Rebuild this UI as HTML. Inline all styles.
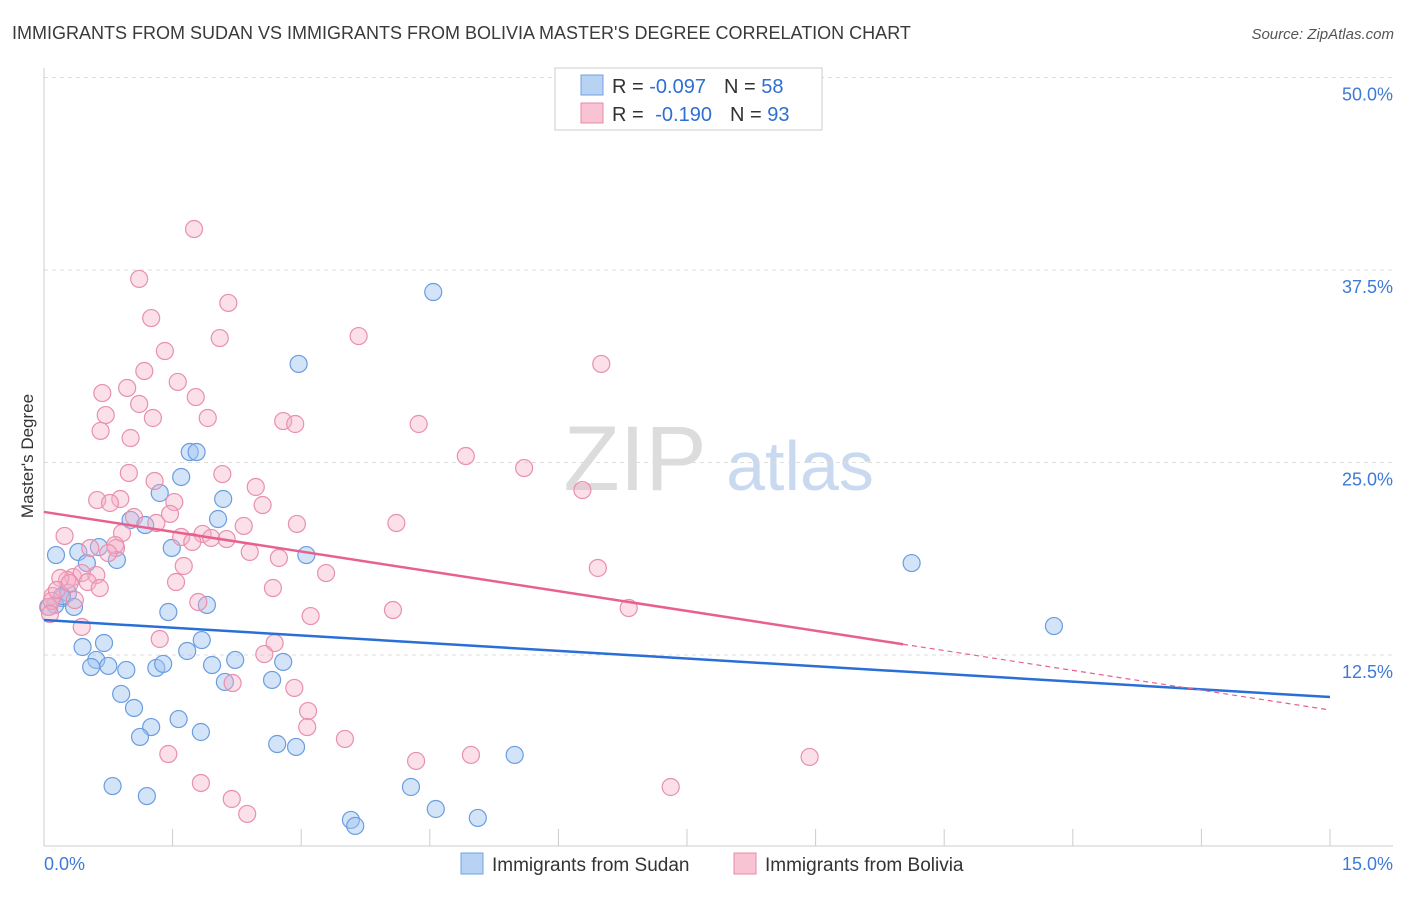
<!DOCTYPE html>
<html><head><meta charset="utf-8"><style>
body{margin:0;background:#fff;font-family:"Liberation Sans",sans-serif;}
svg text{font-family:"Liberation Sans",sans-serif;}
</style></head><body>
<svg id="chart" width="1406" height="892" viewBox="0 0 1406 892" xmlns="http://www.w3.org/2000/svg">
<text x="12" y="39" font-size="18" fill="#3a3a3a">IMMIGRANTS FROM SUDAN VS IMMIGRANTS FROM BOLIVIA MASTER'S DEGREE CORRELATION CHART</text>
<text x="1394" y="39" font-size="15" fill="#555" font-style="italic" text-anchor="end">Source: ZipAtlas.com</text>
<g><text x="635" y="490" font-size="92" fill="#dcdcdc" font-family="Liberation Serif" text-anchor="middle">ZIP</text><text x="800" y="490" font-size="70" fill="#c9daf0" text-anchor="middle">atlas</text></g>
<g id="grid"></g>
<g id="axes"></g>
<g id="points"></g>
<g id="lines"></g>
<text transform="translate(33,456) rotate(-90)" font-size="17" fill="#333" text-anchor="middle">Master's Degree</text>
<g>
<rect x="555" y="68" width="267" height="62" fill="#fff" stroke="#ccc"/>
<rect x="581" y="75" width="22" height="20" fill="#b8d2f4" stroke="#6fa0e0"/>
<rect x="581" y="103" width="22" height="20" fill="#f8c4d4" stroke="#e88aa8"/>
<text x="612" y="93" font-size="20" fill="#333">R = <tspan fill="#2f6fd0">-0.097</tspan><tspan dx="18">N = </tspan><tspan fill="#2f6fd0">58</tspan></text>
<text x="612" y="121" font-size="20" fill="#333">R = <tspan fill="#2f6fd0" dx="6">-0.190</tspan><tspan dx="18">N = </tspan><tspan fill="#2f6fd0">93</tspan></text>
</g>
<g>
<rect x="461" y="853" width="22" height="21" fill="#b8d2f4" stroke="#6fa0e0"/>
<text x="492" y="871" font-size="19" fill="#333">Immigrants from Sudan</text>
<rect x="734" y="853" width="22" height="21" fill="#f8c4d4" stroke="#e88aa8"/>
<text x="765" y="871" font-size="19" fill="#333">Immigrants from Bolivia</text>
</g>
</svg>
<script>
const sudanX=[4.54,2.97,1.70,1.78,1.60,1.35,2.09,1.01,1.18,2.03,0.14,0.40,0.64,0.85,0.50,1.49,3.06,10.12,11.78,0.28,0.21,0.13,0.35,0.05,1.45,1.90,0.70,0.45,1.84,1.67,0.61,0.55,0.75,0.96,1.31,1.39,1.96,2.23,2.79,0.90,1.05,2.11,2.66,1.57,1.25,1.12,1.83,2.72,2.94,5.49,0.80,1.20,4.28,4.57,5.06,3.58,3.63,0.21];
const sudanY=[36.07,31.40,25.68,25.68,24.06,23.02,22.63,21.27,20.94,21.33,18.99,19.19,19.51,18.67,18.47,19.45,18.99,18.47,14.38,16.53,16.20,15.75,15.62,15.62,15.29,15.75,13.28,13.02,13.47,12.76,12.18,11.72,11.79,11.53,11.66,11.92,11.85,12.18,12.05,9.97,9.06,10.75,10.88,8.34,7.82,7.18,7.50,6.72,6.53,6.01,3.99,3.34,3.93,2.50,1.92,1.79,1.40,16.33];
const boliviaX=[1.75,1.11,2.15,1.25,2.05,3.67,1.41,6.50,1.17,1.56,0.68,0.97,1.77,1.11,0.72,1.27,1.91,2.79,2.93,4.37,0.66,1.01,4.92,5.60,0.99,2.08,1.29,2.47,6.28,0.62,0.89,0.77,1.52,2.55,1.47,1.05,1.31,2.95,4.11,2.33,0.24,0.91,1.60,1.85,1.95,2.13,1.73,0.54,0.84,2.40,2.74,6.46,3.29,0.34,0.61,0.44,0.27,1.54,0.51,2.67,0.65,0.10,0.06,0.09,0.07,1.80,4.07,3.11,6.82,0.44,1.35,2.69,2.57,2.92,3.08,2.20,3.07,3.51,1.45,4.34,4.98,8.93,1.83,7.31,2.19,2.37,0.19,0.15,0.30,0.36,0.83,1.63,0.75];
const boliviaY=[40.16,36.92,35.36,34.38,33.08,33.21,32.24,31.40,30.94,30.23,29.51,29.84,29.25,28.80,28.08,27.89,27.89,27.69,27.50,27.50,27.05,26.59,25.42,24.64,24.32,24.25,23.80,23.41,23.21,22.56,22.63,22.37,22.43,22.24,21.66,21.46,21.07,21.01,21.07,20.88,20.23,20.42,20.16,20.36,20.10,20.03,19.84,19.45,19.45,19.19,18.80,18.15,17.82,17.56,17.69,17.82,17.37,17.24,17.24,16.85,16.85,16.33,15.62,16.01,15.16,15.94,15.42,15.03,15.55,14.32,13.54,13.28,12.56,10.36,8.86,10.68,7.82,7.05,6.07,5.62,6.01,5.88,4.19,3.93,3.15,2.18,17.50,16.72,17.17,16.07,19.64,18.28,19.12];
const yTicks=[12.5,25.0,37.5,50.0];
const yTickLabels=["12.5%","25.0%","37.5%","50.0%"];
const xTickVals=[0,1.5,3,4.5,6,7.5,9,10.5,12,13.5,15];
const xEndLabels=["0.0%","15.0%"];
const sudanTrend=[14.77,9.77];
const boliviaTrend=[21.79,8.93];
const boliviaSolidEnd=10.02;

const NS="http://www.w3.org/2000/svg";
const X=v=>44+v*1286/15;
const Y=v=>847.5-v*192.5/12.5;
function mk(tag,attrs,parent){const e=document.createElementNS(NS,tag);for(const k in attrs)e.setAttribute(k,attrs[k]);parent.appendChild(e);return e;}
const grid=document.getElementById('grid'),axes=document.getElementById('axes'),pts=document.getElementById('points'),lines=document.getElementById('lines');
yTicks.forEach((t,i)=>{
 const l=mk('line',{x1:44,x2:1393,y1:Y(t),y2:Y(t),stroke:'#ddd','stroke-dasharray':'4,4'},grid);
 
 
 const tx=mk('text',{x:1393,y:Y(t)+23,'font-size':18,fill:'#3d7ad6','text-anchor':'end'},axes);
 tx.textContent=yTickLabels[i];
 
 
});
const ya=mk('line',{x1:44,x2:44,y1:68,y2:846,stroke:'#ccc'},axes);


const xa=mk('line',{x1:44,x2:1393,y1:846,y2:846,stroke:'#ccc'},axes);


xTickVals.forEach(v=>{
 const t=mk('line',{x1:X(v),x2:X(v),y1:829,y2:846,stroke:'#ccc'},axes);
 
 
});
const xl0=mk('text',{x:44,y:870,'font-size':18,fill:'#3d7ad6'},axes);xl0.textContent=xEndLabels[0];


const xl1=mk('text',{x:1393,y:870,'font-size':18,fill:'#3d7ad6','text-anchor':'end'},axes);xl1.textContent=xEndLabels[1];


sudanX.forEach((x,i)=>{
 const c=mk('circle',{cx:X(x),cy:Y(sudanY[i]),r:8.5,fill:'rgba(160,195,240,0.45)',stroke:'#6a9de0','stroke-width':1.2},pts);
 
 
});
boliviaX.forEach((x,i)=>{
 const c=mk('circle',{cx:X(x),cy:Y(boliviaY[i]),r:8.5,fill:'rgba(245,175,200,0.4)',stroke:'#e890ae','stroke-width':1.2},pts);
 
 
});
const bl=mk('line',{x1:X(0),y1:Y(sudanTrend[0]),x2:X(15),y2:Y(sudanTrend[1]),stroke:'#2a6fd6','stroke-width':2.5},lines);


const pm=boliviaTrend[0]+(boliviaTrend[1]-boliviaTrend[0])*boliviaSolidEnd/15;
const pl=mk('line',{x1:X(0),y1:Y(boliviaTrend[0]),x2:X(boliviaSolidEnd),y2:Y(pm),stroke:'#e8608e','stroke-width':2.5},lines);


const pd=mk('line',{x1:X(boliviaSolidEnd),y1:Y(pm),x2:X(15),y2:Y(boliviaTrend[1]),stroke:'#e8608e','stroke-width':1.2,'stroke-dasharray':'5,4'},lines);


</script>
</body></html>
